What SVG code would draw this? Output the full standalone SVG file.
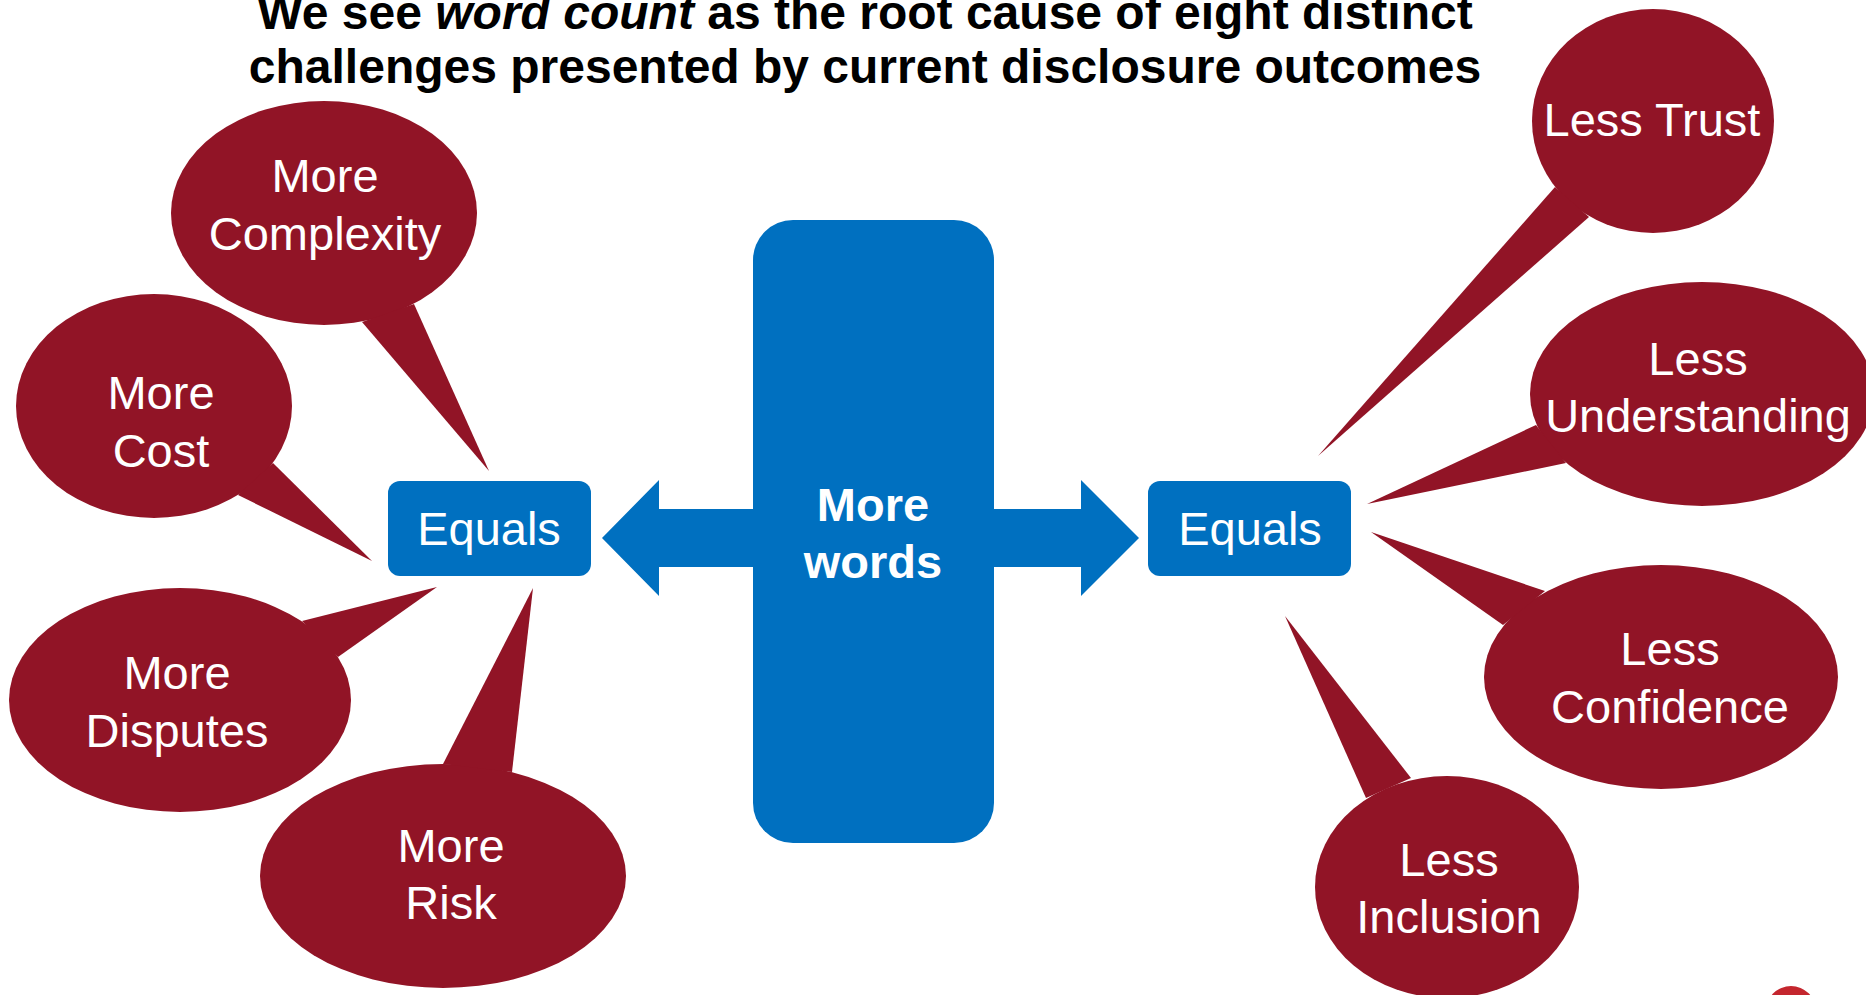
<svg xmlns="http://www.w3.org/2000/svg" width="1866" height="995" viewBox="0 0 1866 995">
  <style>
    .title { font-family: "Liberation Sans", Arial, sans-serif; font-weight: bold; font-size: 48px; fill: #000; text-anchor: middle; }
    .bubble { fill: #911426; }
    .blue { fill: #0070C0; }
    .lbl { font-family: "Liberation Sans", Arial, sans-serif; font-size: 47px; fill: #fff; text-anchor: middle; }
    .core { font-family: "Liberation Sans", Arial, sans-serif; font-weight: bold; font-size: 47px; fill: #fff; text-anchor: middle; }
  </style>

  <rect width="1866" height="995" fill="#fff"/>

  <!-- Heading -->
  <g id="title">
    <text class="title" x="865" y="29">We see <tspan font-style="italic">word count</tspan> as the root cause of eight distinct</text>
    <text class="title" x="865" y="83">challenges presented by current disclosure outcomes</text>
  </g>

  <!-- Connectors: double-headed block arrow out of the central box -->
  <g id="connectors" class="blue">
    <polygon points="753,509 659,509 659,480 602,538 659,596 659,567 753,567"/>
    <polygon points="994,509 1081,509 1081,480 1139,538 1081,596 1081,567 994,567"/>
  </g>

  <!-- Central node -->
  <g id="more-words">
    <rect class="blue" x="753" y="220" width="241" height="623" rx="40" ry="40"/>
    <text class="core" x="873" y="521">More</text>
    <text class="core" x="873" y="578">words</text>
  </g>

  <!-- Equals boxes -->
  <g id="equals-left">
    <rect class="blue" x="388" y="481" width="203" height="95" rx="12" ry="12"/>
    <text class="lbl" x="489" y="545">Equals</text>
  </g>
  <g id="equals-right">
    <rect class="blue" x="1148" y="481" width="203" height="95" rx="12" ry="12"/>
    <text class="lbl" x="1250" y="545">Equals</text>
  </g>

  <!-- Speech bubbles: "More ..." side -->
  <g id="more-complexity" class="bubble">
    <ellipse cx="324" cy="213" rx="153" ry="112"/>
    <polygon points="362,322 414,304 489,471"/>
    <text class="lbl" x="325" y="192">More</text>
    <text class="lbl" x="325" y="250">Complexity</text>
  </g>
  <g id="more-cost" class="bubble">
    <ellipse cx="154" cy="406" rx="138" ry="112"/>
    <polygon points="273,463 238,495 372,561"/>
    <text class="lbl" x="161" y="409">More</text>
    <text class="lbl" x="161" y="467">Cost</text>
  </g>
  <g id="more-disputes" class="bubble">
    <ellipse cx="180" cy="700" rx="171" ry="112"/>
    <polygon points="302,621 338,657 437,587"/>
    <text class="lbl" x="177" y="689">More</text>
    <text class="lbl" x="177" y="747">Disputes</text>
  </g>
  <g id="more-risk" class="bubble">
    <ellipse cx="443" cy="876" rx="183" ry="112"/>
    <polygon points="443,764 512,772 533,588"/>
    <text class="lbl" x="451" y="862">More</text>
    <text class="lbl" x="451" y="919">Risk</text>
  </g>

  <!-- Speech bubbles: "Less ..." side -->
  <g id="less-trust" class="bubble">
    <ellipse cx="1653" cy="121" rx="121" ry="112"/>
    <polygon points="1555,187 1589,217 1318,456"/>
    <text class="lbl" x="1652" y="136">Less Trust</text>
  </g>
  <g id="less-understanding" class="bubble">
    <ellipse cx="1702" cy="394" rx="172" ry="112"/>
    <polygon points="1536,425 1566,463 1367,504"/>
    <text class="lbl" x="1698" y="375">Less</text>
    <text class="lbl" x="1698" y="432">Understanding</text>
  </g>
  <g id="less-confidence" class="bubble">
    <ellipse cx="1661" cy="677" rx="177" ry="112"/>
    <polygon points="1545,591 1503,625 1371,532"/>
    <text class="lbl" x="1670" y="665">Less</text>
    <text class="lbl" x="1670" y="723">Confidence</text>
  </g>
  <g id="less-inclusion" class="bubble">
    <ellipse cx="1447" cy="887" rx="132" ry="111"/>
    <polygon points="1411,778 1366,798 1285,616"/>
    <text class="lbl" x="1449" y="876">Less</text>
    <text class="lbl" x="1449" y="933">Inclusion</text>
  </g>

  <!-- Corner badge, mostly below the page edge -->
  <circle id="badge" cx="1791" cy="1011" r="25" fill="#c4262e"/>
</svg>
